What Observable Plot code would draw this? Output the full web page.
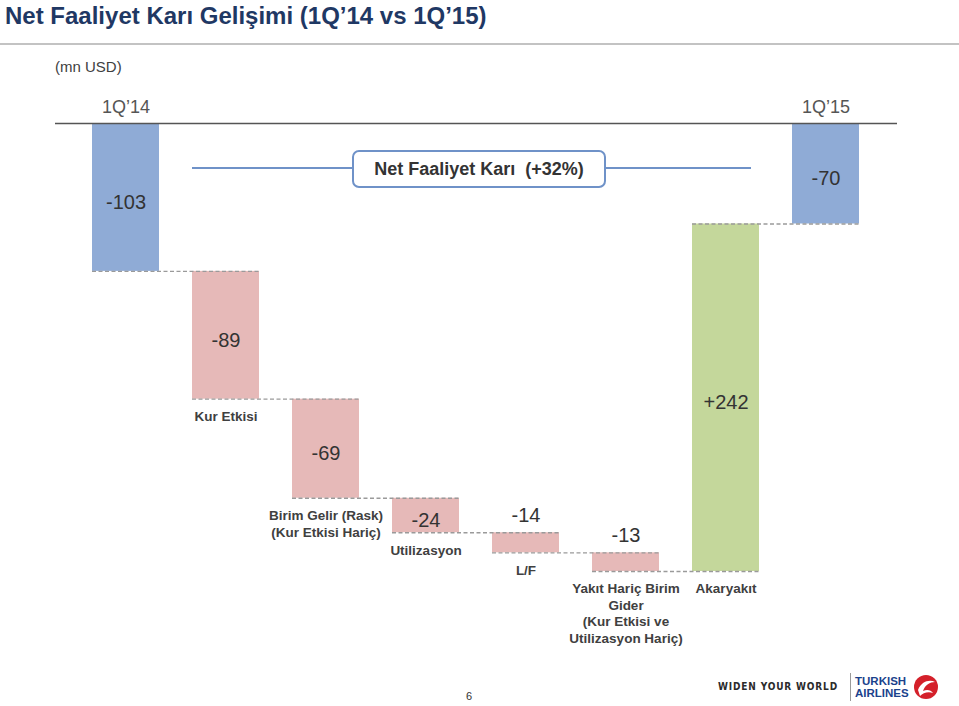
<!DOCTYPE html>
<html><head><meta charset="utf-8">
<script src="https://cdn.jsdelivr.net/npm/d3@7"></script>
<script src="https://cdn.jsdelivr.net/npm/@observablehq/plot@0.6"></script>
<style>
body{margin:0;background:#fff;font-family:"Liberation Sans",Arial,Helvetica,sans-serif;}
#page{position:relative;width:959px;height:706px;overflow:hidden;background:#fff;}
#title{position:absolute;left:5px;top:2px;font-size:24px;font-weight:bold;color:#1F3864;white-space:nowrap;}
#rule{position:absolute;left:0;top:43px;width:959px;height:2px;background:#c3c3c3;}
#unit{position:absolute;left:55px;top:58px;font-size:15px;color:#404040;}
#chart{position:absolute;left:0;top:80px;}
#netbox{position:absolute;left:352px;top:150px;width:254px;height:38px;box-sizing:border-box;border:2.5px solid #6F92C8;border-radius:7px;background:#fff;display:flex;align-items:center;justify-content:center;font-size:18px;font-weight:bold;color:#333;white-space:pre;}
#pagenum{position:absolute;left:466px;top:690px;font-size:11px;color:#333;}
#slogan{position:absolute;left:718px;top:681px;font-family:"DejaVu Sans Condensed","Liberation Sans Narrow",sans-serif;font-size:10px;font-weight:bold;letter-spacing:0.85px;color:#2b2b2b;white-space:nowrap;}
#divider{position:absolute;left:850px;top:673px;width:1px;height:28px;background:#9a9a9a;}
.brand{position:absolute;left:855px;font-size:11.5px;line-height:11px;height:11px;font-weight:bold;color:#1B428C;white-space:nowrap;letter-spacing:0px;}
#logo{position:absolute;left:913px;top:674px;}
</style>
</head><body>
<div id="page">
  <div id="title">Net Faaliyet Karı Gelişimi (1Q’14 vs 1Q’15)</div>
  <div id="rule"></div>
  <div id="unit">(mn USD)</div>
  <div id="chart"></div>
  <div id="netbox">Net Faaliyet Karı  (+32%)</div>
  <div id="pagenum">6</div>
  <div id="slogan">WIDEN YOUR WORLD</div>
  <div id="divider"></div>
  <div class="brand" style="top:676px">TURKISH</div>
  <div class="brand" style="top:688px">AIRLINES</div>
  <svg id="logo" width="26" height="26" viewBox="0 0 26 26">
    <circle cx="13" cy="13" r="12" fill="#D4202A"/>
    <path d="M5 16 C8 8, 16 5, 22 8 C17 8, 12 11, 10 17 C14 15, 18 16, 20 19 C15 17, 10 19, 7 22 Z" fill="#fff"/>
  </svg>
</div>
<script>
// ---- data ----
const keys = ["q14", "kur", "birim", "util", "lf", "yakit", "akar", "q15"];
const categoryLabels = ["", "Kur Etkisi", "Birim Gelir (Rask)\n(Kur Etkisi Hariç)", "Utilizasyon", "L/F",
  "Yakıt Hariç Birim\nGider\n(Kur Etkisi ve\nUtilizasyon Hariç)", "Akaryakıt", ""];
const periodLabels = ["1Q’14", "", "", "", "", "", "", "1Q’15"];
const kinds = ["total", "delta", "delta", "delta", "delta", "delta", "delta", "total"];
const values = [-103, -89, -69, -24, -14, -13, 242, -70];
const valueLabels = ["-103", "-89", "-69", "-24", "-14", "-13", "+242", "-70"];
const netLine = {from: "kur", to: "akar", level: -31};

// ---- derived table ----
let running = 0;
const rows = keys.map((k, i) => {
  let y1, y2;
  if (kinds[i] === "total") { y1 = 0; y2 = values[i]; running = values[i]; }
  else { y1 = running; y2 = running + values[i]; running = y2; }
  return {key: k, i, y1, y2, low: Math.min(y1, y2), high: Math.max(y1, y2), mid: (y1 + y2) / 2,
    kind: kinds[i], value: values[i], vlabel: valueLabels[i], clabel: categoryLabels[i], plabel: periodLabels[i],
    end: kinds[i] === "total" ? values[i] : y2};
});
const connectors = rows.slice(0, -1).map((r, i) => ({a: r.key, b: rows[i + 1].key, level: r.end}));
const colorOf = r => r.kind === "total" ? "#8FABD6" : (r.value < 0 ? "#E6B9B8" : "#C4D79B");
const ymin = d3.min(rows, d => d.low);
const big = rows.filter(r => Math.abs(r.value) >= 20);
const small = rows.filter(r => Math.abs(r.value) < 20);

const font = '"Liberation Sans", Arial, sans-serif';
const chart = Plot.plot({
  width: 959,
  height: 580,
  marginLeft: 75.5,
  marginRight: 83.5,
  marginTop: 43,
  marginBottom: 89,
  style: {fontFamily: font, background: "transparent", overflow: "visible"},
  x: {domain: keys, paddingInner: 0.33, paddingOuter: 0.165, axis: null},
  y: {domain: [ymin, 0], axis: null},
  marks: [
    Plot.barY(rows, {x: "key", y1: "y1", y2: "y2", fill: colorOf}),
    Plot.ruleY(connectors, {x1: "a", x2: "b", y: "level", stroke: "#9a9a9a", strokeWidth: 1.3, strokeDasharray: "4,2.5"}),
    Plot.ruleY([0], {stroke: "#555", strokeWidth: 1.5, insetLeft: -20.5, insetRight: -21.5}),
    Plot.ruleY([netLine], {x1: "from", x2: "to", y: "level", stroke: "#6F92C8", strokeWidth: 2, insetRight: 8}),
    Plot.text(rows.filter(r => r.plabel), {x: "key", y: () => 0, text: "plabel", dy: -16, fontSize: 18, fill: "#555"}),
    Plot.text(big, {x: "key", y: "mid", text: "vlabel", dy: 5, fontSize: 20, fill: "#333"}),
    Plot.text(small, {x: "key", y: "high", text: "vlabel", dy: -17, fontSize: 20, fill: "#333"}),
    Plot.text(rows.filter(r => r.clabel), {x: "key", y: "low", text: "clabel", lineAnchor: "top", dy: 10,
      fontSize: 13.5, fontWeight: "bold", fill: "#404040", lineHeight: 1.23})
  ]
});
document.getElementById("chart").appendChild(chart);
</script>
</body></html>
